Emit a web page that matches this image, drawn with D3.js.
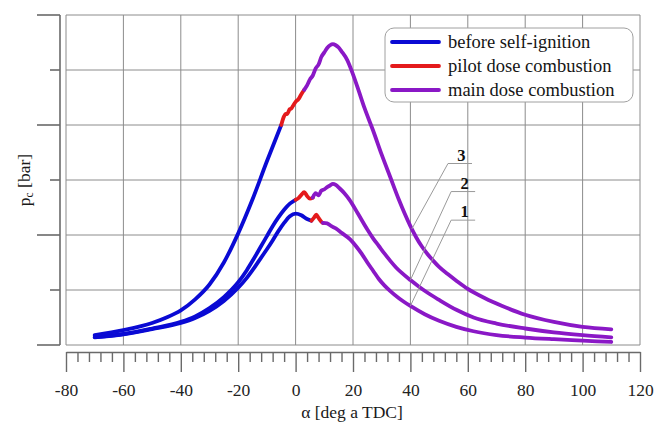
<!DOCTYPE html>
<html>
<head>
<meta charset="utf-8">
<script src="https://cdn.jsdelivr.net/npm/d3@7"></script>
<style>
  html, body { margin: 0; padding: 0; background: #fff; }
  svg text { font-family: "Liberation Serif", "Times New Roman", Tinos, "DejaVu Serif", "Noto Serif", serif !important; }
</style>
</head>
<body>
<svg id="chart" width="654" height="423"></svg>
<script>
// ---- data ----
const xTicks = [-80, -60, -40, -20, 0, 20, 40, 60, 80, 100, 120];
const yGrid = [0, 10, 20, 30, 40, 50, 60];

// curve 1 (lowest)
const c1Deg = [-70,-60,-50,-40,-35,-30,-25,-20,-17,-15,-12,-10,-8,-6,-4,-2,0,2,4,5.5,6.5,7.2,8,9,9.5,11,12.5,14,16,19,21,23,25,27,29,31,33,36,40,45,50,56,62,70,80,90,100,110];
const c1Val = [1.4,1.95,2.9,4.0,4.9,6.2,8.0,10.4,12.2,13.6,15.9,17.4,19.0,20.7,22.2,23.4,23.9,23.6,22.9,22.6,23.2,23.7,23.1,22.4,22.2,22.1,21.6,21.2,20.4,19.2,18.0,16.6,15.0,13.5,12.0,10.8,9.8,8.5,7.1,5.6,4.4,3.3,2.5,1.8,1.35,1.05,0.8,0.55];
// curve 2 (middle)
const c2Deg = [-70,-60,-50,-40,-35,-30,-25,-20,-17,-15,-12,-10,-8,-6,-4,-2,0,1,2,3,4,5,6,7,8,9,10,11,12,13,14,15.3,17,18.8,21.7,25,27,29,31,33,35,37,40,43,46,50,56,62,70,80,90,100,110];
const c2Val = [1.45,2.0,3.0,4.2,5.2,6.7,8.7,11.4,13.6,15.3,18.0,19.8,21.6,23.2,24.6,25.7,26.4,26.7,27.3,27.8,27.1,26.6,26.8,27.6,27.2,28.1,28.3,28.7,29.0,29.3,29.1,28.5,27.6,26.4,23.9,21.0,19.4,18.0,16.6,15.3,14.1,13.1,11.8,10.6,9.5,8.2,6.4,5.0,3.9,3.0,2.3,1.8,1.4];
// curve 3 (highest)
const c3Deg = [-70,-60,-50,-45,-40,-35,-30,-25,-20,-15,-10,-5,-4,-3.5,-3,-2,-1.5,-1,0,1,2,3,4,5,6,7,8,9,10,11,12,13,14,15,16,18,20,22,24,27,30,33,36,38,40,42,44,46,48,50,53,56,60,66,72,80,90,100,110];
const c3Val = [1.8,2.7,4.0,5.0,6.3,8.3,11.0,15.0,20.3,26.5,33.4,40.0,41.6,42.0,42.0,42.9,43.0,43.4,44.2,44.7,45.6,46.4,47.2,48.3,49.0,50.3,51.0,52.4,53.2,54.0,54.5,54.7,54.5,54.1,53.4,51.8,49.2,46.2,43.1,39.0,34.6,30.5,26.4,23.9,21.6,19.6,17.9,16.5,15.3,14.2,12.9,11.7,10.2,8.5,7.1,5.5,4.2,3.3,2.85];

// phase boundaries [curve1, curve2, curve3]
const pilotStart = [5.5, 0, -5];
const mainStart = [9.5, 6, 3];

const legendLabels = ["before self-ignition", "pilot dose combustion", "main dose combustion"];
const phaseColors = ["#0a0ad4", "#e41a1c", "#8a18c6"];

const curveLabels = ["1", "2", "3"];
const leaderDeg = [40, 40, 40.5];       // where the leader touches the curve
const labelDeg = [54.2, 54.2, 53.1];    // start of label underline
const labelVal = [22.7, 27.9, 33.0];

// ---- drawing ----
const FONT = "'Liberation Serif', 'Times New Roman', Tinos, 'DejaVu Serif', serif";
const svg = d3.select("#chart");
const x = d3.scaleLinear().domain([-80, 120]).range([66, 640]);
const y = d3.scaleLinear().domain([0, 60]).range([345, 15]);

const gridColor = "#8c8c8c";
const axisColor = "#6a6a6a";

// grid
const grid = svg.append("g");
grid.selectAll("line.v").data(xTicks).join("line")
  .attr("x1", d => x(d)).attr("x2", d => x(d))
  .attr("y1", y(60)).attr("y2", y(0))
  .attr("stroke", gridColor).attr("stroke-width", 1);
grid.selectAll("line.h").data(yGrid).join("line")
  .attr("x1", x(-80)).attr("x2", x(120))
  .attr("y1", d => y(d)).attr("y2", d => y(d))
  .attr("stroke", gridColor).attr("stroke-width", 1);

// y axis (no labels), alternating long/short ticks
const yAxisX = 60;
svg.append("line").attr("x1", yAxisX).attr("x2", yAxisX)
  .attr("y1", y(60)).attr("y2", y(0))
  .attr("stroke", axisColor).attr("stroke-width", 1.6);
svg.selectAll("line.yt").data(yGrid).join("line")
  .attr("x1", d => (d % 20 === 0) ? yAxisX - 23 : yAxisX - 10)
  .attr("x2", yAxisX)
  .attr("y1", d => y(d)).attr("y2", d => y(d))
  .attr("stroke", axisColor).attr("stroke-width", 1.6);

// x axis
const xAxisY = 352;
const xAxis = d3.axisBottom(x)
  .tickValues(d3.range(-80, 121, 4))
  .tickSize(10)
  .tickSizeOuter(0)
  .tickFormat(d => xTicks.includes(d) ? d : "");
const gx = svg.append("g").attr("transform", `translate(0,${xAxisY})`).call(xAxis)
  .attr("font-family", FONT);
gx.select(".domain").attr("stroke", axisColor).attr("stroke-width", 1.6);
gx.selectAll(".tick line")
  .attr("stroke", axisColor).attr("stroke-width", 1.4)
  .attr("y2", d => xTicks.includes(d) ? 20 : 10);
gx.selectAll(".tick text")
  .attr("y", 32)
  .attr("font-family", FONT)
  .attr("font-size", 17.5)
  .attr("fill", "#222");

// axis titles
svg.append("text").attr("x", 352).attr("y", 418)
  .attr("font-family", FONT)
  .attr("text-anchor", "middle").attr("font-size", 17.5).attr("fill", "#1a1a1a")
  .text("α [deg a TDC]");
const yt = svg.append("text")
  .attr("font-family", FONT)
  .attr("transform", "translate(30,180) rotate(-90)")
  .attr("text-anchor", "middle").attr("font-size", 17.5).attr("fill", "#1a1a1a");
yt.append("tspan").text("p");
yt.append("tspan").attr("font-size", 11.5).attr("dy", 3).text("c");
yt.append("tspan").attr("dy", -3).text(" [bar]");

// curves
const curves = [
  c1Deg.map((d, i) => ({a: d, v: c1Val[i]})),
  c2Deg.map((d, i) => ({a: d, v: c2Val[i]})),
  c3Deg.map((d, i) => ({a: d, v: c3Val[i]}))
];
const line = d3.line().x(d => x(d.a)).y(d => y(d.v)).curve(d3.curveMonotoneX);
const cg = svg.append("g");
curves.forEach((pts, ci) => {
  const segs = [
    pts.filter(p => p.a <= pilotStart[ci]),
    pts.filter(p => p.a >= pilotStart[ci] && p.a <= mainStart[ci]),
    pts.filter(p => p.a >= mainStart[ci])
  ];
  segs.forEach((s, si) => {
    cg.append("path").datum(s).attr("d", line)
      .attr("fill", "none").attr("stroke", phaseColors[si])
      .attr("stroke-width", 3.8)
      .attr("stroke-linecap", "round").attr("stroke-linejoin", "round");
  });
});

// curve labels with leader lines
const ag = svg.append("g");
curveLabels.forEach((lab, i) => {
  const pts = curves[i];
  const interp = d3.scaleLinear().domain(pts.map(p => p.a)).range(pts.map(p => p.v));
  const px = x(leaderDeg[i]), py = y(interp(leaderDeg[i]));
  const lx = x(labelDeg[i]), ly = y(labelVal[i]);
  ag.append("line").attr("x1", px).attr("y1", py).attr("x2", lx).attr("y2", ly)
    .attr("stroke", "#9a9a9a").attr("stroke-width", 1);
  ag.append("line").attr("x1", lx).attr("y1", ly).attr("x2", lx + 24).attr("y2", ly)
    .attr("stroke", "#9a9a9a").attr("stroke-width", 1);
  ag.append("text").attr("x", lx + 13.5).attr("y", ly - 3)
    .attr("font-family", FONT)
    .attr("text-anchor", "middle").attr("font-size", 16.5).attr("font-weight", "bold")
    .attr("fill", "#111").text(lab);
});

// legend
const lg = svg.append("g");
lg.append("rect").attr("x", 385).attr("y", 28).attr("width", 248).attr("height", 74)
  .attr("rx", 9).attr("fill", "#fff").attr("stroke", "#a0a0a0").attr("stroke-width", 1);
legendLabels.forEach((t, i) => {
  const ly = 42 + i * 24;
  lg.append("line").attr("x1", 392).attr("x2", 439).attr("y1", ly).attr("y2", ly)
    .attr("stroke", phaseColors[i]).attr("stroke-width", 3.8).attr("stroke-linecap", "round");
  lg.append("text").attr("x", 448).attr("y", ly + 6)
    .attr("font-family", FONT)
    .attr("font-size", 18.5).attr("fill", "#151515").text(t);
});
</script>
</body>
</html>
